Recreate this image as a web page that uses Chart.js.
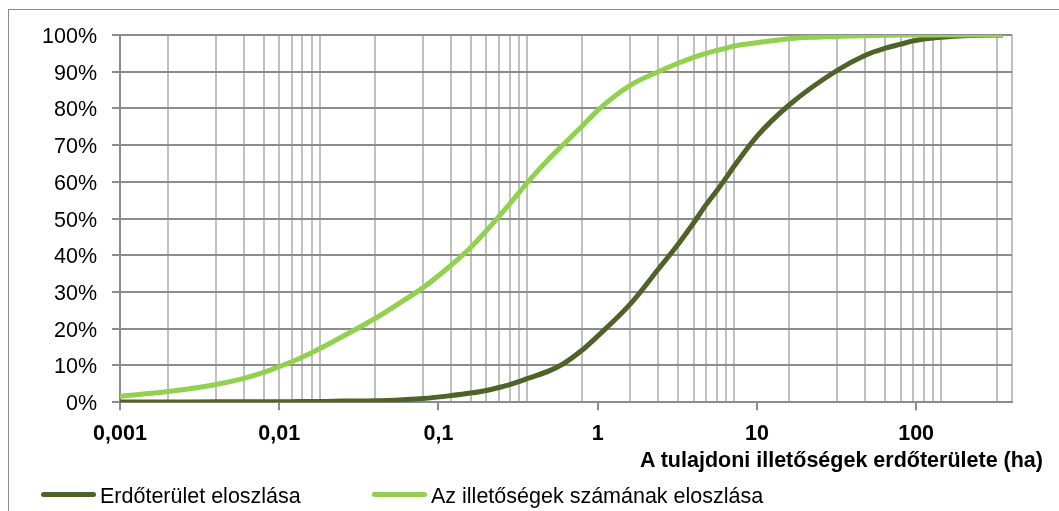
<!DOCTYPE html>
<html>
<head>
<meta charset="utf-8">
<script src="https://cdn.jsdelivr.net/npm/chart.js@4.4.1/dist/chart.umd.min.js"></script>
<style>
  html, body { margin: 0; padding: 0; background: #fff; overflow: hidden; width: 1059px; height: 511px; }
  #wrap { position: relative; width: 1059px; height: 511px; overflow: hidden; }
  #frame { position: absolute; left: 8px; top: 9px; width: 1200px; height: 700px; border: 1px solid #8a8a8a; box-sizing: border-box; }
  #box { position: absolute; left: 0; top: 0; width: 1059px; height: 511px; }
  .txt { font-family: 'Liberation Sans', Arial, sans-serif; color: #000; white-space: nowrap; }
  #axtitle { position: absolute; right: 16px; top: 448px; font-size: 21.5px; font-weight: bold; line-height: 24px; }
  .leg { position: absolute; top: 484px; height: 24px; display: flex; align-items: center; }
  .leg .sw { width: 55px; height: 5px; border-radius: 3px; margin-right: 4px; position: relative; top: -2px; }
  .leg .lt { font-size: 21.5px; line-height: 24px; }
</style>
</head>
<body>
<div id="wrap">
  <div id="frame"></div>
  <div id="box"><canvas id="c"></canvas></div>
  <div id="axtitle" class="txt"></div>
  <div id="legend"></div>
</div>
<script>
// ---- data ----
const xValues = [0.001,0.002,0.004,0.006,0.008,0.01,0.012,0.014,0.016,0.018,0.025,0.04,0.06,0.08,0.12,0.16,0.2,0.24,0.28,0.32,0.36,0.5,0.6,0.8,1,1.6,2.4,3.2,4,4.8,5.6,6.4,7.2,10,16,32,48,64,80,96,112,128,144,200,320,350];
const forestArea = [0.05,0.05,0.1,0.1,0.1,0.15,0.15,0.2,0.2,0.2,0.3,0.4,0.7,1.0,1.8,2.5,3.2,4.0,4.8,5.6,6.4,8.6,10.3,14.2,18,26.7,36.2,43,48.8,53.8,57.6,61.1,64.3,72.4,81,90.4,94.5,96.4,97.5,98.4,98.9,99.2,99.4,99.8,100,100];
const shareCount = [1.6,2.9,4.8,6.5,8.1,9.7,11.0,12.3,13.5,14.6,17.9,22.8,27.6,31.2,37.3,42.2,46.7,50.6,54.0,57.0,59.7,66.5,69.9,75.2,79.5,86.3,90,92.3,93.9,95,95.8,96.4,97,97.9,99,99.6,99.8,99.9,100,100,100,100,100,100,100,100];
const seriesNames = ['Erdőterület eloszlása', 'Az illetőségek számának eloszlása'];
const seriesColors = ['#4f6228', '#92d050'];
const decadeValues = [0.001, 0.01, 0.1, 1, 10, 100];
const decadeLabels = ['0,001', '0,01', '0,1', '1', '10', '100'];
const gridValues = [0.001,0.002,0.004,0.006,0.008,0.01,0.012,0.014,0.016,0.018,0.04,0.08,0.12,0.16,0.2,0.24,0.28,0.32,0.36,0.8,1.6,2.4,3.2,4,4.8,5.6,6.4,7.2,16,32,48,64,80,96,112,128,144,320,400];
const xMin = 0.001, xMax = 400;
const yTickValues = [0,10,20,30,40,50,60,70,80,90,100];
const xAxisTitle = 'A tulajdoni illetőségek erdőterülete (ha)';

// ---- helpers ----
const same = (a, b) => Math.abs(a - b) <= Math.abs(b) * 1e-9;
const isDecade = v => decadeValues.some(d => same(v, d));
const isGrid = v => gridValues.some(d => same(v, d));
const allTicks = Array.from(new Set([...gridValues, ...decadeValues])).sort((a, b) => a - b);
const FONT = "'Liberation Sans', Arial, sans-serif";

const mk = (vals) => xValues.map((x, i) => ({ x: x, y: vals[i] }));

const chart = new Chart(document.getElementById('c'), {
  type: 'line',
  data: {
    datasets: [
      { label: seriesNames[0], data: mk(forestArea), borderColor: seriesColors[0], backgroundColor: seriesColors[0],
        borderWidth: 5, pointRadius: 0, cubicInterpolationMode: 'monotone', fill: false, order: 1 },
      { label: seriesNames[1], data: mk(shareCount), borderColor: seriesColors[1], backgroundColor: seriesColors[1],
        borderWidth: 5, pointRadius: 0, cubicInterpolationMode: 'monotone', fill: false, order: 0 }
    ]
  },
  options: {
    responsive: true,
    maintainAspectRatio: false,
    animation: false,
    events: [],
    layout: { padding: { left: 0, right: 47, top: 35, bottom: 53 } },
    plugins: { legend: { display: false }, tooltip: { enabled: false }, title: { display: false } },
    scales: {
      x: {
        type: 'logarithmic',
        min: xMin, max: xMax,
        bounds: 'data',
        afterBuildTicks: s => { s.ticks = allTicks.map(v => ({ value: v })); },
        ticks: {
          autoSkip: false, maxRotation: 0, minRotation: 0, padding: 11,
          color: '#000',
          font: { family: FONT, size: 21.5, weight: 'bold' },
          callback: (v) => { const i = decadeValues.findIndex(d => same(v, d)); return i >= 0 ? decadeLabels[i] : ''; }
        },
        grid: {
          color: c => (c.tick && isGrid(c.tick.value)) ? '#c0c0c0' : 'rgba(0,0,0,0)',
          lineWidth: 2,
          tickLength: 8,
          tickWidth: 2,
          tickColor: c => (c.tick && isDecade(c.tick.value)) ? '#8c8c8c' : 'rgba(0,0,0,0)'
        },
        border: { color: '#8c8c8c', width: 2 }
      },
      y: {
        type: 'linear',
        min: 0, max: 100,
        afterBuildTicks: s => { s.ticks = yTickValues.map(v => ({ value: v })); },
        afterFit: s => { s.width = 120; },
        ticks: {
          padding: 15, labelOffset: 2,
          color: '#000',
          font: { family: FONT, size: 21.5 },
          callback: v => v + '%'
        },
        grid: { color: '#8c8c8c', lineWidth: 2, tickLength: 8, tickColor: '#8c8c8c', tickWidth: 2 },
        border: { color: '#8c8c8c', width: 2 }
      }
    }
  }
});

// ---- axis title and legend (HTML) ----
document.getElementById('axtitle').textContent = xAxisTitle;
const legendLefts = [41, 372];
const lg = document.getElementById('legend');
seriesNames.forEach((name, i) => {
  const item = document.createElement('div');
  item.className = 'leg txt';
  item.style.left = legendLefts[i] + 'px';
  const sw = document.createElement('div');
  sw.className = 'sw';
  sw.style.background = seriesColors[i];
  const t = document.createElement('span');
  t.className = 'lt';
  t.textContent = name;
  item.appendChild(sw); item.appendChild(t);
  lg.appendChild(item);
});
</script>
</body>
</html>
